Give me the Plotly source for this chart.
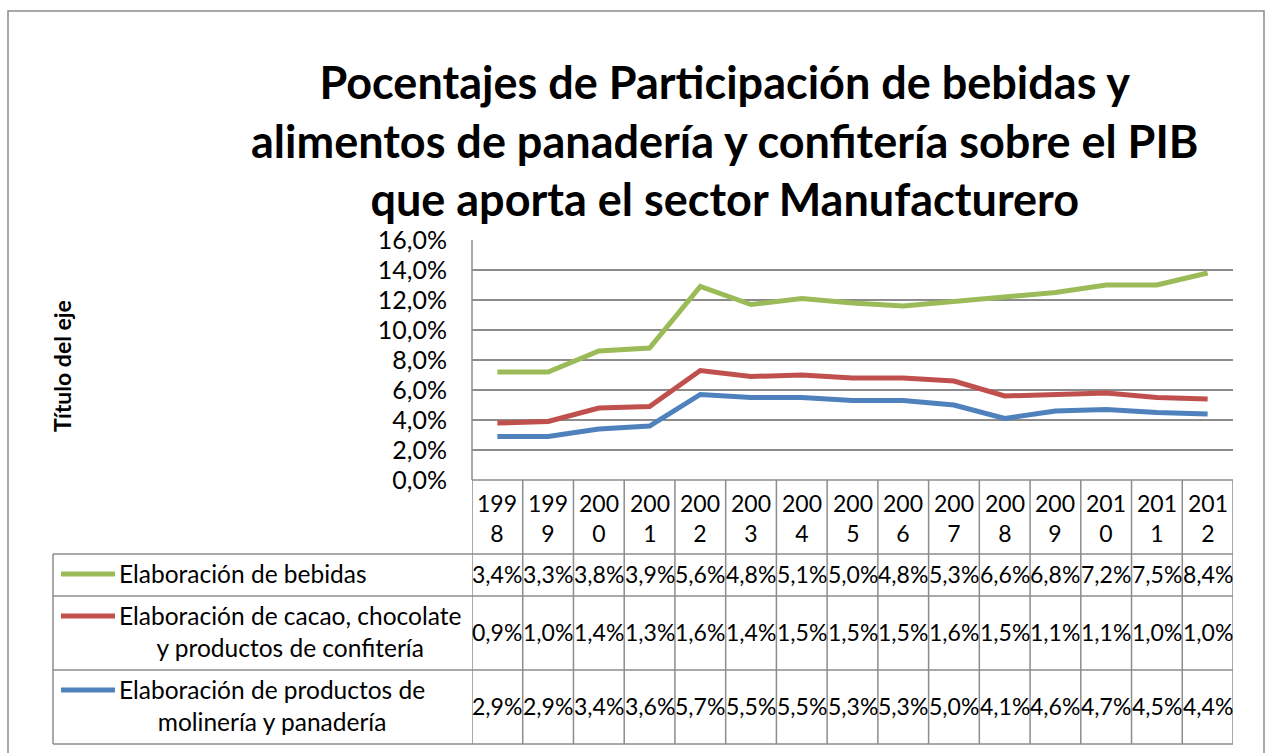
import plotly.graph_objects as go

years = [str(y) for y in range(1998, 2013)]
bebidas = [3.4, 3.3, 3.8, 3.9, 5.6, 4.8, 5.1, 5.0, 4.8, 5.3, 6.6, 6.8, 7.2, 7.5, 8.4]
cacao = [0.9, 1.0, 1.4, 1.3, 1.6, 1.4, 1.5, 1.5, 1.5, 1.6, 1.5, 1.1, 1.1, 1.0, 1.0]
molineria = [2.9, 2.9, 3.4, 3.6, 5.7, 5.5, 5.5, 5.3, 5.3, 5.0, 4.1, 4.6, 4.7, 4.5, 4.4]

name_beb = "Elaboración de bebidas"
name_cac = "Elaboración de cacao, chocolate<br>y productos de confitería"
name_mol = "Elaboración de productos de<br>molinería y panadería"
col_beb = "#9BBB59"
col_cac = "#C0504D"
col_mol = "#4F81BD"

title = ("Pocentajes de Participación de bebidas y<br>"
         "alimentos de panadería y confitería sobre el PIB<br>"
         "que aporta el sector Manufacturero")

FONT = "Lato"
W, H = 1271, 753
L, R, T, B = 472, 1233, 240, 480


def px(x):
    return (x - L) / (R - L)


def py(y):
    return (B - y) / (B - T)


xs = list(range(len(years)))
fig = go.Figure()
# stacked lines (bottom to top)
for nm, vals, col in [(name_mol, molineria, col_mol), (name_cac, cacao, col_cac), (name_beb, bebidas, col_beb)]:
    fig.add_trace(go.Scatter(x=xs, y=[v / 100 for v in vals], stackgroup="s", fill="none",
                             mode="lines", line=dict(color=col, width=5), name=nm.replace("<br>", " ")))

grid = "#8C8C8C"
shapes = []
anns = []

# outer border
shapes.append(dict(type="rect", xref="paper", yref="paper", x0=px(8), x1=px(1264), y0=py(11), y1=py(775),
                   line=dict(color="#8C8C8C", width=1.5), layer="below"))

# table rows
for yy in [554, 596, 670, 744]:
    shapes.append(dict(type="line", xref="paper", yref="paper", x0=px(53), x1=1, y0=py(yy), y1=py(yy),
                       line=dict(color=grid, width=1.5)))
shapes.append(dict(type="line", xref="paper", yref="paper", x0=0, x1=1, y0=py(480), y1=py(480),
                   line=dict(color=grid, width=1.5)))
for i in range(len(years) + 1):
    shapes.append(dict(type="line", xref="x", yref="paper", x0=i - 0.5, x1=i - 0.5, y0=py(480), y1=py(744),
                       line=dict(color=grid, width=1.5)))
shapes.append(dict(type="line", xref="paper", yref="paper", x0=px(53), x1=px(53), y0=py(554), y1=py(744),
                   line=dict(color=grid, width=1.5)))
shapes.append(dict(type="line", xref="paper", yref="paper", x0=0, x1=0, y0=py(240), y1=py(480),
                   line=dict(color=grid, width=1.5)))

vfont = dict(family=FONT, size=23, color="#000")
lfont = dict(family=FONT, size=24.5, color="#000")
# year header
for i, y in enumerate(years):
    anns.append(dict(x=i, y=py(518), xref="x", yref="paper", text=y[:3] + "<br>" + y[3:], showarrow=False,
                     font=vfont, align="center", xanchor="center", yanchor="middle"))

series_rows = [(name_beb, bebidas, col_beb, 554, 596, 574),
               (name_cac, cacao, col_cac, 596, 670, 616),
               (name_mol, molineria, col_mol, 670, 744, 690)]
for nm, vals, col, y0, y1, ykey in series_rows:
    yc = (y0 + y1) / 2
    shapes.append(dict(type="line", xref="paper", yref="paper", x0=px(61), x1=px(115), y0=py(ykey), y1=py(ykey),
                       line=dict(color=col, width=5)))
    anns.append(dict(x=px(117), y=py(yc - 1.5), xref="paper", yref="paper", text=nm, showarrow=False, font=lfont,
                     align="center", xanchor="left", yanchor="middle"))
    for i, v in enumerate(vals):
        anns.append(dict(x=i, y=py(yc - 1.5), xref="x", yref="paper", text=f"{v:.1f}%".replace(".", ","),
                         showarrow=False, font=vfont, xanchor="center", yanchor="middle"))

# title
anns.append(dict(x=px(724), y=py(140), xref="paper", yref="paper", text="<b>" + title + "</b>", showarrow=False,
                 font=dict(family=FONT, size=45, color="#000"), align="center", xanchor="center", yanchor="middle"))
# y axis title
anns.append(dict(x=px(62), y=py(366), xref="paper", yref="paper", text="<b>Título del eje</b>", showarrow=False,
                 textangle=-90, font=dict(family=FONT, size=23, color="#000"), xanchor="center", yanchor="middle"))

fig.update_layout(
    width=W, height=H, autosize=False,
    margin=dict(l=L, r=W - R, t=T, b=H - B, pad=0),
    paper_bgcolor="white", plot_bgcolor="white",
    separators=",.",
    showlegend=False,
    shapes=shapes, annotations=anns,
    font=dict(family=FONT, color="#000"),
)
fig.update_xaxes(range=[-0.5, len(years) - 0.5], showticklabels=False, showgrid=False, zeroline=False,
                 showline=False, ticks="")
fig.update_yaxes(range=[0, 0.16], dtick=0.02, tickformat=".1%", showgrid=True, gridcolor=grid, gridwidth=1.5,
                 zeroline=False, showline=False, ticks="", ticklabelstandoff=24,
                 tickfont=dict(family=FONT, size=25, color="#000"))

fig.write_html("out.html", config={"displayModeBar": False},
               post_script="document.body.style.margin='0';")
